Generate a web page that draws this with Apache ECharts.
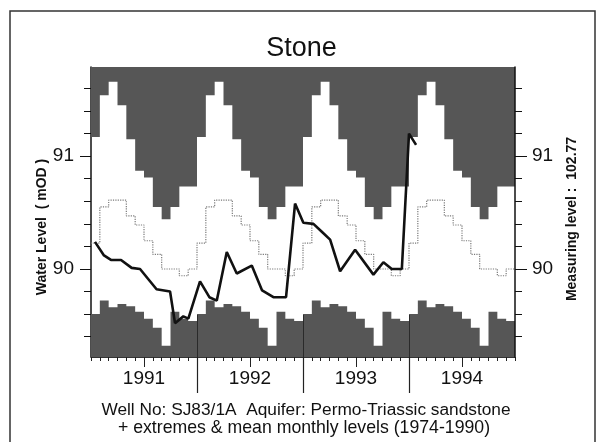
<!DOCTYPE html>
<html>
<head>
<meta charset="utf-8">
<script src="https://cdn.jsdelivr.net/npm/echarts@6/dist/echarts.min.js"></script>
<style>
  html, body { margin: 0; padding: 0; background: #fff; }
  #chart { width: 603px; height: 442px; }
</style>
</head>
<body>
<div id="chart"></div>
<script>
const years = ['1991', '1992', '1993', '1994'];

// monthly extremes & mean 1974-1990, Jan..Dec (mOD)
const maxLevels = [91.17, 91.54, 91.66, 91.45, 91.15, 90.87, 90.81, 90.55, 90.44, 90.55, 90.73, 90.73];
const meanLevels = [90.23, 90.55, 90.61, 90.61, 90.47, 90.39, 90.25, 90.13, 90.00, 90.00, 89.94, 90.00];
const minLevels = [89.60, 89.72, 89.66, 89.69, 89.67, 89.62, 89.56, 89.48, 89.32, 89.62, 89.56, 89.54];

// observed levels, time in months since 1 Jan 1991
const obsMonths = [0.45, 1.47, 2.26, 3.4, 4.6, 5.55, 7.42, 8.95, 9.51, 10.45, 11.02,
  12.34, 13.4, 14.24, 15.37, 16.5, 18.2, 19.37, 20.65, 22.08, 23.1,
  24.04, 25.18, 26.13, 27.07, 28.2, 29.9, 31.97, 33.1, 34.05, 35.19, 36.0, 36.8];
const obsLevels = [90.24, 90.12, 90.08, 90.08, 90.01, 90.00, 89.82, 89.80, 89.52, 89.58, 89.56,
  89.89, 89.75, 89.72, 90.15, 89.96, 90.03, 89.81, 89.75, 89.75, 90.58,
  90.41, 90.40, 90.33, 90.26, 89.98, 90.17, 89.95, 90.06, 90.00, 90.00, 91.20, 91.10];

const minorTicks = [89.4, 89.6, 89.8, 90.0, 90.2, 90.4, 90.6, 90.8, 91.0, 91.2, 91.4, 91.6];
const majorTicks = [90, 91];
const midYear = [6, 18, 30, 42];
const yearEnds = [12, 24, 36];

const FONT = '"Liberation Sans", Arial, Helvetica, sans-serif';
const GREY = '#565656';
const yMin = 89.22;
const yMax = 91.79;
const nMonths = years.length * 12;

// repeat the 12 monthly values over the whole period for a step line
function stepData(levels) {
  const out = [];
  for (let m = 0; m < nMonths; m++) out.push([m, levels[m % 12]]);
  out.push([nMonths, levels[11]]);
  return out;
}

const chart = echarts.init(document.getElementById('chart'), null, { renderer: 'canvas' });

const baseX = { type: 'value', min: 0, max: nMonths, position: 'bottom', offset: 0, splitLine: { show: false } };
const baseY = { type: 'value', min: yMin, max: yMax, offset: 0, splitLine: { show: false } };

const option = {
  animation: false,
  backgroundColor: '#fff',
  textStyle: { fontFamily: FONT },
  title: {
    text: 'Stone',
    left: 'center',
    top: 30,
    textStyle: { fontSize: 27, fontWeight: 'normal', color: '#111', fontFamily: FONT },
  },
  grid: { left: 91, right: 88, top: 67, bottom: 85 },
  xAxis: [
    {
      ...baseX,
      interval: 1,
      axisLine: { show: true, onZero: false, lineStyle: { color: '#333', width: 1 } },
      axisTick: { show: true, length: 4, lineStyle: { color: '#222', width: 1 } },
      axisLabel: {
        customValues: midYear,
        margin: 12,
        fontSize: 19,
        color: '#111',
        fontFamily: FONT,
        formatter: (v) => years[Math.round((v - 6) / 12)],
      },
    },
    {
      ...baseX,
      axisLine: { show: false, onZero: false },
      axisTick: { show: true, customValues: midYear, length: 10, lineStyle: { color: '#222', width: 1 } },
      axisLabel: { show: false },
    },
    {
      ...baseX,
      axisLine: { show: false, onZero: false },
      axisTick: { show: true, customValues: yearEnds, length: 36, lineStyle: { color: '#222', width: 1.2 } },
      axisLabel: { show: false },
    },
    {
      ...baseX,
      z: 5,
      axisLine: { show: false, onZero: false },
      axisTick: { show: true, inside: true, customValues: yearEnds, length: 42, lineStyle: { color: '#2a2a2a', width: 1 } },
      axisLabel: { show: false },
    },
  ],
  yAxis: [
    {
      ...baseY,
      position: 'left',
      axisLine: { show: true, onZero: false, lineStyle: { color: '#111', width: 1.5 } },
      axisTick: { show: true, customValues: minorTicks, length: 7, lineStyle: { color: '#111', width: 1 } },
      axisLabel: { customValues: majorTicks, margin: 17, fontSize: 19, color: '#111', fontFamily: FONT },
    },
    {
      ...baseY,
      position: 'left',
      axisLine: { show: false, onZero: false },
      axisTick: { show: true, customValues: majorTicks, length: 11, lineStyle: { color: '#111', width: 1 } },
      axisLabel: { show: false },
    },
    {
      ...baseY,
      position: 'right',
      z: 5,
      axisLine: { show: true, onZero: false, lineStyle: { color: '#111', width: 1.5 } },
      axisTick: { show: true, customValues: minorTicks, length: 7, lineStyle: { color: '#111', width: 1 } },
      axisLabel: { customValues: majorTicks, margin: 17, fontSize: 19, color: '#111', fontFamily: FONT },
    },
    {
      ...baseY,
      position: 'right',
      z: 5,
      axisLine: { show: false, onZero: false },
      axisTick: { show: true, customValues: majorTicks, length: 12, lineStyle: { color: '#111', width: 1 } },
      axisLabel: { show: false },
    },
  ],
  series: [
    {
      name: 'max',
      type: 'line',
      step: 'end',
      showSymbol: false,
      z: 2,
      lineStyle: { width: 0, color: GREY },
      areaStyle: { color: GREY, opacity: 1, origin: 'end' },
      data: stepData(maxLevels),
    },
    {
      name: 'min',
      type: 'line',
      step: 'end',
      showSymbol: false,
      z: 2,
      lineStyle: { width: 0, color: GREY },
      areaStyle: { color: GREY, opacity: 1, origin: 'start' },
      data: stepData(minLevels),
    },
    {
      name: 'mean',
      type: 'line',
      step: 'end',
      showSymbol: false,
      z: 3,
      lineStyle: { width: 1.2, color: '#7a7a7a', type: 'dotted' },
      data: stepData(meanLevels),
    },
    {
      name: 'observed',
      type: 'line',
      showSymbol: false,
      z: 4,
      lineStyle: { width: 2.6, color: '#111' },
      data: obsMonths.map((t, i) => [t, obsLevels[i]]),
    },
  ],
  graphic: [
    {
      type: 'rect',
      shape: { x: 10, y: 11, width: 585, height: 460 },
      style: { fill: 'none', stroke: '#333', lineWidth: 1.5 },
      silent: true,
    },
    {
      type: 'text',
      x: 42, y: 227,
      rotation: Math.PI / 2,
      style: { text: 'Water Level  ( mOD )', x: 0, y: 0, fontSize: 14, fontWeight: 'bold', fontFamily: FONT, fill: '#111',
        align: 'center', verticalAlign: 'middle', textAlign: 'center', textVerticalAlign: 'middle' },
    },
    {
      type: 'text',
      x: 572, y: 219,
      rotation: Math.PI / 2,
      style: { text: 'Measuring level :  102.77', x: 0, y: 0, fontSize: 14, fontWeight: 'bold', fontFamily: FONT, fill: '#111',
        align: 'center', verticalAlign: 'middle', textAlign: 'center', textVerticalAlign: 'middle' },
    },
    {
      type: 'text',
      x: 306, y: 410,
      style: { text: 'Well No: SJ83/1A  Aquifer: Permo-Triassic sandstone', x: 0, y: 0, fontSize: 17.3,
        fontFamily: FONT, fill: '#111', align: 'center', verticalAlign: 'middle', textAlign: 'center', textVerticalAlign: 'middle' },
    },
    {
      type: 'text',
      x: 304, y: 428,
      style: { text: '+ extremes & mean monthly levels (1974-1990)', x: 0, y: 0, fontSize: 17.7,
        fontFamily: FONT, fill: '#111', align: 'center', verticalAlign: 'middle', textAlign: 'center', textVerticalAlign: 'middle' },
    },
  ],
};

chart.setOption(option);
window.addEventListener('resize', () => chart.resize());
</script>
</body>
</html>
